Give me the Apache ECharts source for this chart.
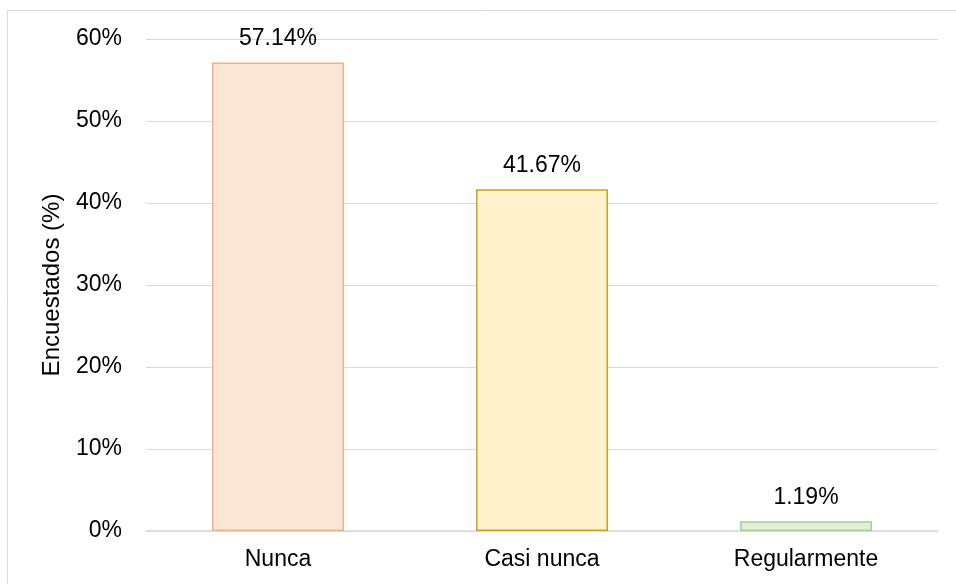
<!DOCTYPE html>
<html>
<head>
<meta charset="utf-8">
<script src="https://cdn.jsdelivr.net/npm/echarts@6/dist/echarts.min.js"></script>
<style>
html, body { margin: 0; padding: 0; background: #fff; }
#main { width: 956px; height: 584px; }
</style>
</head>
<body>
<div id="main"></div>
<script>
var categories = ['Nunca', 'Casi nunca', 'Regularmente'];
var values = [57.14, 41.67, 1.19];
var fills = ['#FBE5D6', '#FFF2CC', '#E2F0D9'];
var borders = ['#F4B183', '#C9A227', '#A9D18E'];

var myChart = echarts.init(document.getElementById('main'));

var option = {
  animation: false,
  textStyle: { fontFamily: 'Liberation Sans, Arial, sans-serif' },
  graphic: [{
    type: 'rect',
    shape: { x: 7.5, y: 10.5, width: 1000, height: 1000 },
    style: { fill: 'none', stroke: '#D9D9D9', lineWidth: 1 },
    silent: true
  }],
  grid: { left: 146, right: 18, top: 39, bottom: 53 },
  xAxis: {
    type: 'category',
    data: categories,
    axisTick: { show: false },
    axisLine: { lineStyle: { color: '#D9D9D9', width: 1.5 } },
    axisLabel: { color: '#000', fontSize: 23, margin: 17 }
  },
  yAxis: {
    type: 'value',
    min: 0,
    max: 60,
    interval: 10,
    name: 'Encuestados (%)',
    nameLocation: 'middle',
    nameGap: 82,
    nameTextStyle: { color: '#000', fontSize: 24 },
    axisLine: { show: false },
    axisTick: { show: false },
    axisLabel: { color: '#000', fontSize: 23, margin: 24, formatter: '{value}%' },
    splitLine: { lineStyle: { color: '#D9D9D9', width: 1 } }
  },
  series: [{
    type: 'bar',
    barWidth: '50%',
    data: values.map(function (v, i) {
      return {
        value: v,
        itemStyle: { color: fills[i], borderColor: borders[i], borderWidth: 1.5 }
      };
    }),
    label: {
      show: true,
      position: 'top',
      distance: 12,
      color: '#000',
      fontSize: 23,
      formatter: function (p) { return p.value.toFixed(2) + '%'; }
    }
  }]
};

myChart.setOption(option);
</script>
</body>
</html>
